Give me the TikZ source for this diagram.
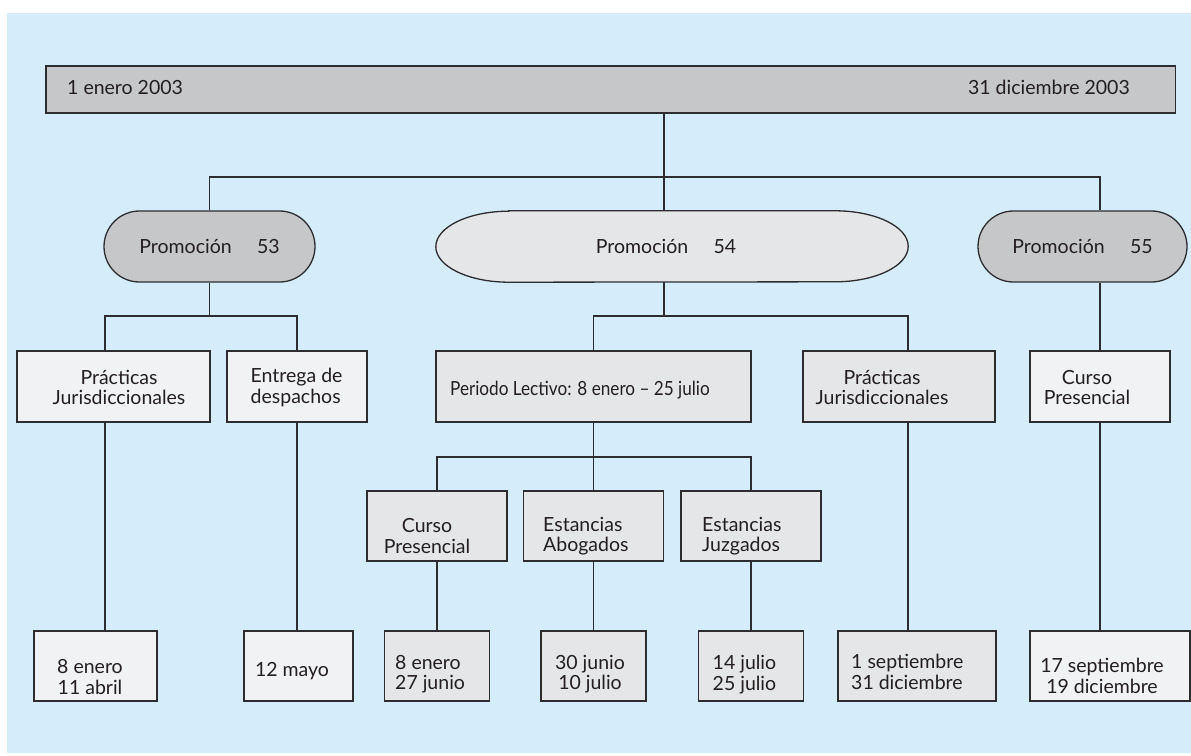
\documentclass[tikz,border=0pt]{standalone}
\usepackage{fontspec}
\setmainfont{Lato}
\newfontfamily\condfont[FakeStretch=0.88]{Lato}
\usetikzlibrary{shapes.misc}
\definecolor{bgblue}{RGB}{213,236,250}
\definecolor{gdark}{RGB}{198,199,201}
\definecolor{glight}{RGB}{229,230,232}
\definecolor{gwhite}{RGB}{241,242,244}
\definecolor{ink}{RGB}{35,31,32}
\definecolor{edge}{RGB}{45,45,48}
\begin{document}
\begin{tikzpicture}[x=1pt,y=-1pt,
  every node/.style={font=\fontsize{19.5}{20.5}\selectfont, text=ink},
  box/.style={draw=edge, line width=1.3pt, inner sep=0pt, minimum height=71pt},
  boxw/.style={box, fill=gwhite},
  boxl/.style={box, fill=glight},
  stad/.style={rounded rectangle, draw=edge, line width=1.3pt, fill=gdark, minimum height=71pt, inner sep=0pt},
  conn/.style={draw=edge, line width=1.1pt},
  txt/.style={inner sep=0pt, align=center},
  txtl/.style={inner sep=0pt, align=left, anchor=west}]
\useasboundingbox (0,0) rectangle (1191,755);
\fill[bgblue] (7,13) rectangle (1191,753);

% top bar
\node[box, fill=gdark, minimum width=1129.5pt, minimum height=47pt] (bar) at (610.75,89.5) {};
\node[inner sep=0pt, anchor=base west] (tstart) at (67,94) {1 enero 2003};
\node[inner sep=0pt, anchor=base east] (tend) at (1130,94) {31 diciembre 2003};

% promociones
\node[stad, minimum width=211pt] (p53) at (209.5,246.5) {Promoción\hspace{1.3em}53};
\node[stad, minimum width=209pt] (p55) at (1082.5,246.5) {Promoción\hspace{1.3em}55};
\node[minimum width=472pt, minimum height=71pt, inner sep=0pt] (p54) at (672,246.5) {};
\filldraw[draw=edge, line width=1.3pt, fill=glight]
  ([xshift=73pt]p54.north west) -- ([xshift=-73pt]p54.north east)
  arc[start angle=90, end angle=-90, x radius=73pt, y radius=35.5pt]
  -- ([xshift=73pt]p54.south west)
  arc[start angle=270, end angle=90, x radius=73pt, y radius=35.5pt] -- cycle;
\node[txt] (t54) at (666,246.5) {Promoción\hspace{1.3em}54};

% second level
\node[boxw, minimum width=193pt] (pj1) at (113.5,386.5) {};
\node[txt] (tpj1) at (119,387.5) {Prácticas\\Jurisdiccionales};
\node[boxw, minimum width=140pt] (ed) at (297,386.5) {};
\node[txtl] (ted) at (250.5,387.5) {Entrega de\\despachos};
\node[boxl, minimum width=315pt] (pl) at (593.5,386.5) {};
\node[inner sep=0pt, anchor=base west, font=\condfont\fontsize{19.5}{20}\selectfont] (tpl) at (450,395) {Periodo Lectivo: 8 enero – 25 julio};
\node[boxl, minimum width=192pt] (pj2) at (899,386.5) {};
\node[txt] (tpj2) at (882,387.5) {Prácticas\\Jurisdiccionales};
\node[boxw, minimum width=140pt] (cp2) at (1100,386.5) {};
\node[txt] (tcp2) at (1087,387.5) {Curso\\Presencial};

% third level
\node[boxl, minimum width=140pt, minimum height=70pt] (cp1) at (437,526) {};
\node[txt] (tcp1) at (427,536) {Curso\\Presencial};
\node[boxl, minimum width=140pt, minimum height=70pt] (ea) at (593.5,526) {};
\node[txtl] (tea) at (543,536) {Estancias\\Abogados};
\node[boxl, minimum width=140pt, minimum height=70pt] (ej) at (751,526) {};
\node[txtl] (tej) at (702,536) {Estancias\\Juzgados};

% bottom dates
\node[boxw, minimum width=123pt, minimum height=70pt] (b1) at (95.5,666) {};
\node[txt] (tb1) at (90,677) {8 enero\\11 abril};
\node[boxw, minimum width=109pt, minimum height=70pt] (b2) at (298.5,666) {};
\node[inner sep=0pt, anchor=base] (tb2) at (292,676) {12 mayo};
\node[boxl, minimum width=105.5pt, minimum height=70pt] (b3) at (437,666) {};
\node[txtl] (tb3) at (395,674) {8 enero\\27 junio};
\node[boxl, minimum width=105pt, minimum height=70pt] (b4) at (593.5,666) {};
\node[txt] (tb4) at (590,674) {30 junio\\10 julio};
\node[boxl, minimum width=105.5pt, minimum height=70pt] (b5) at (751,666) {};
\node[txtl] (tb5) at (712.5,674.5) {14 julio\\25 julio};
\node[boxl, minimum width=158pt, minimum height=70pt] (b6) at (917,666) {};
\node[txtl] (tb6) at (851,672) {1 septiembre\\31 diciembre};
\node[boxw, minimum width=160pt, minimum height=70pt] (b7) at (1110,666) {};
\node[txt] (tb7) at (1102,676) {17 septiembre\\19 diciembre};

% helper coordinates
\coordinate (j0) at (664,177);
\coordinate (j1) at (664,316);
\coordinate (j2) at (593.5,457);
\coordinate (x105) at (105,0);
\coordinate (x908) at (908,0);

% connectors
\draw[conn] (bar.south -| j0) -- (p54.north -| j0);
\draw[conn] (p53.north) -- (p53.north |- j0) -| (p55.north -| cp2.north);
\draw[conn] (p53.south) -- (p53.south |- j1);
\draw[conn] (pj1.north -| x105) -- (x105 |- j1) -| (ed.north);
\draw[conn] (pj1.south -| x105) -- (b1.north -| x105);
\draw[conn] (ed.south) -- (b2.north -| ed.south);
\draw[conn] (p54.south -| j1) -- (j1);
\draw[conn] (pl.north) -- (pl.north |- j1) -| (pj2.north -| x908);
\draw[conn] (pj2.south -| x908) -- (b6.north -| x908);
\draw[conn] (pl.south) -- (ea.north);
\draw[conn] (cp1.north) -- (cp1.north |- j2) -| (ej.north);
\draw[conn] (cp1.south) -- (b3.north);
\draw[conn] (ea.south) -- (b4.north);
\draw[conn] (ej.south) -- (b5.north);
\draw[conn] (p55.south -| cp2.north) -- (cp2.north);
\draw[conn] (cp2.south) -- (b7.north -| cp2.south);
\end{tikzpicture}
\end{document}
